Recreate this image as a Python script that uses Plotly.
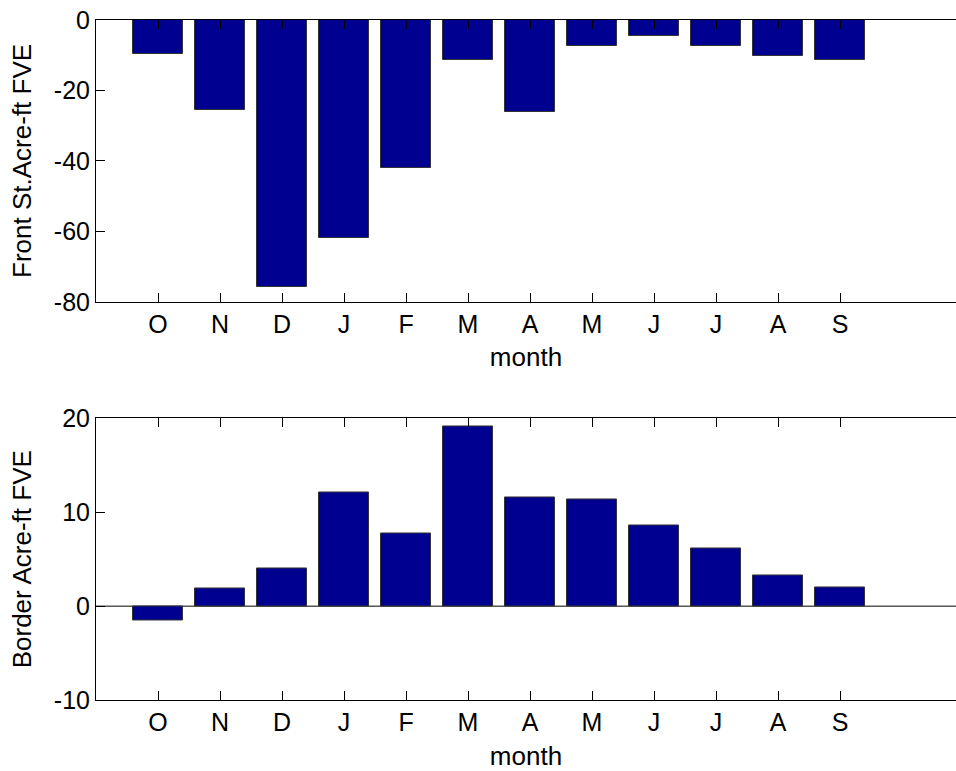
import plotly.graph_objects as go

months = ["O", "N", "D", "J", "F", "M", "A", "M", "J", "J", "A", "S"]
positions = list(range(1, 13))
front_st = [-9.6, -25.5, -75.9, -61.8, -42.0, -11.4, -26.1, -7.3, -4.5, -7.3, -10.1, -11.4]
border = [-1.5, 1.9, 4.05, 12.15, 7.7, 19.2, 11.55, 11.4, 8.55, 6.2, 3.25, 1.95]
top_ticks = [-80, -60, -40, -20, 0]
top_tick_labels = ["-80", "-60", "-40", "-20", "0"]
bottom_ticks = [-10, 0, 10, 20]
bottom_tick_labels = ["-10", "0", "10", "20"]

BAR = "#000090"
EDGE = "#333333"
FONT = "Liberation Sans, Arial, Helvetica, sans-serif"

fig = go.Figure()
fig.add_trace(go.Bar(x=positions, y=front_st, width=0.8, marker=dict(color=BAR, line=dict(color=EDGE, width=1)),
                     xaxis="x", yaxis="y", showlegend=False, hoverinfo="skip"))
fig.add_trace(go.Bar(x=positions, y=border, width=0.8, marker=dict(color=BAR, line=dict(color=EDGE, width=1)),
                     xaxis="x2", yaxis="y2", showlegend=False, hoverinfo="skip"))

xcommon = dict(range=[0, 13.87], tickmode="array", tickvals=positions, ticktext=months,
               ticks="inside", ticklen=9, tickcolor="black", showline=True, linecolor="black",
               linewidth=1, mirror="ticks", showgrid=False, zeroline=False,
               tickfont=dict(size=25, color="black", family=FONT),
               title=dict(text="month", font=dict(size=26, color="black", family=FONT), standoff=11))
ycommon = dict(ticks="inside", ticklen=9, tickcolor="black", showline=True, linecolor="black",
               linewidth=1, showgrid=False, zeroline=False, tickmode="array",
               tickfont=dict(size=25, color="black", family=FONT))
yright = dict(ticks="inside", ticklen=3, tickcolor="black", showline=False, showgrid=False,
              zeroline=False, showticklabels=False, side="right", tickmode="array")

fig.update_layout(
    width=956, height=771,
    margin=dict(l=96, r=0, t=20, b=71),
    paper_bgcolor="white", plot_bgcolor="white",
    bargap=0,
    font=dict(family=FONT, color="black"),
    xaxis=dict(domain=[0, 1], anchor="y", **xcommon),
    yaxis=dict(domain=[0.5856, 1], anchor="x", range=[-80, 0], tickvals=top_ticks, ticktext=top_tick_labels,
               title=dict(text="Front St.Acre-ft FVE", font=dict(size=26, color="black", family=FONT), standoff=14),
               **ycommon),
    yaxis3=dict(overlaying="y", anchor="x", range=[-80, 0], tickvals=top_ticks, **yright),
    xaxis2=dict(domain=[0, 1], anchor="y2", **xcommon),
    yaxis2=dict(domain=[0, 0.414], anchor="x2", range=[-10, 20], tickvals=bottom_ticks, ticktext=bottom_tick_labels,
                title=dict(text="Border Acre-ft FVE", font=dict(size=26, color="black", family=FONT), standoff=14),
                **ycommon),
    yaxis4=dict(overlaying="y2", anchor="x2", range=[-10, 20], tickvals=bottom_ticks, **yright),
)

# bar baseline at zero in the lower panel
fig.add_shape(type="line", xref="x2 domain", yref="y2", x0=0, x1=1, y0=0, y1=0,
              line=dict(color="black", width=1), layer="below")

fig.write_html("out.html", config={"displayModeBar": False},
               post_script="document.body.style.margin='0';document.body.style.overflow='hidden';")
